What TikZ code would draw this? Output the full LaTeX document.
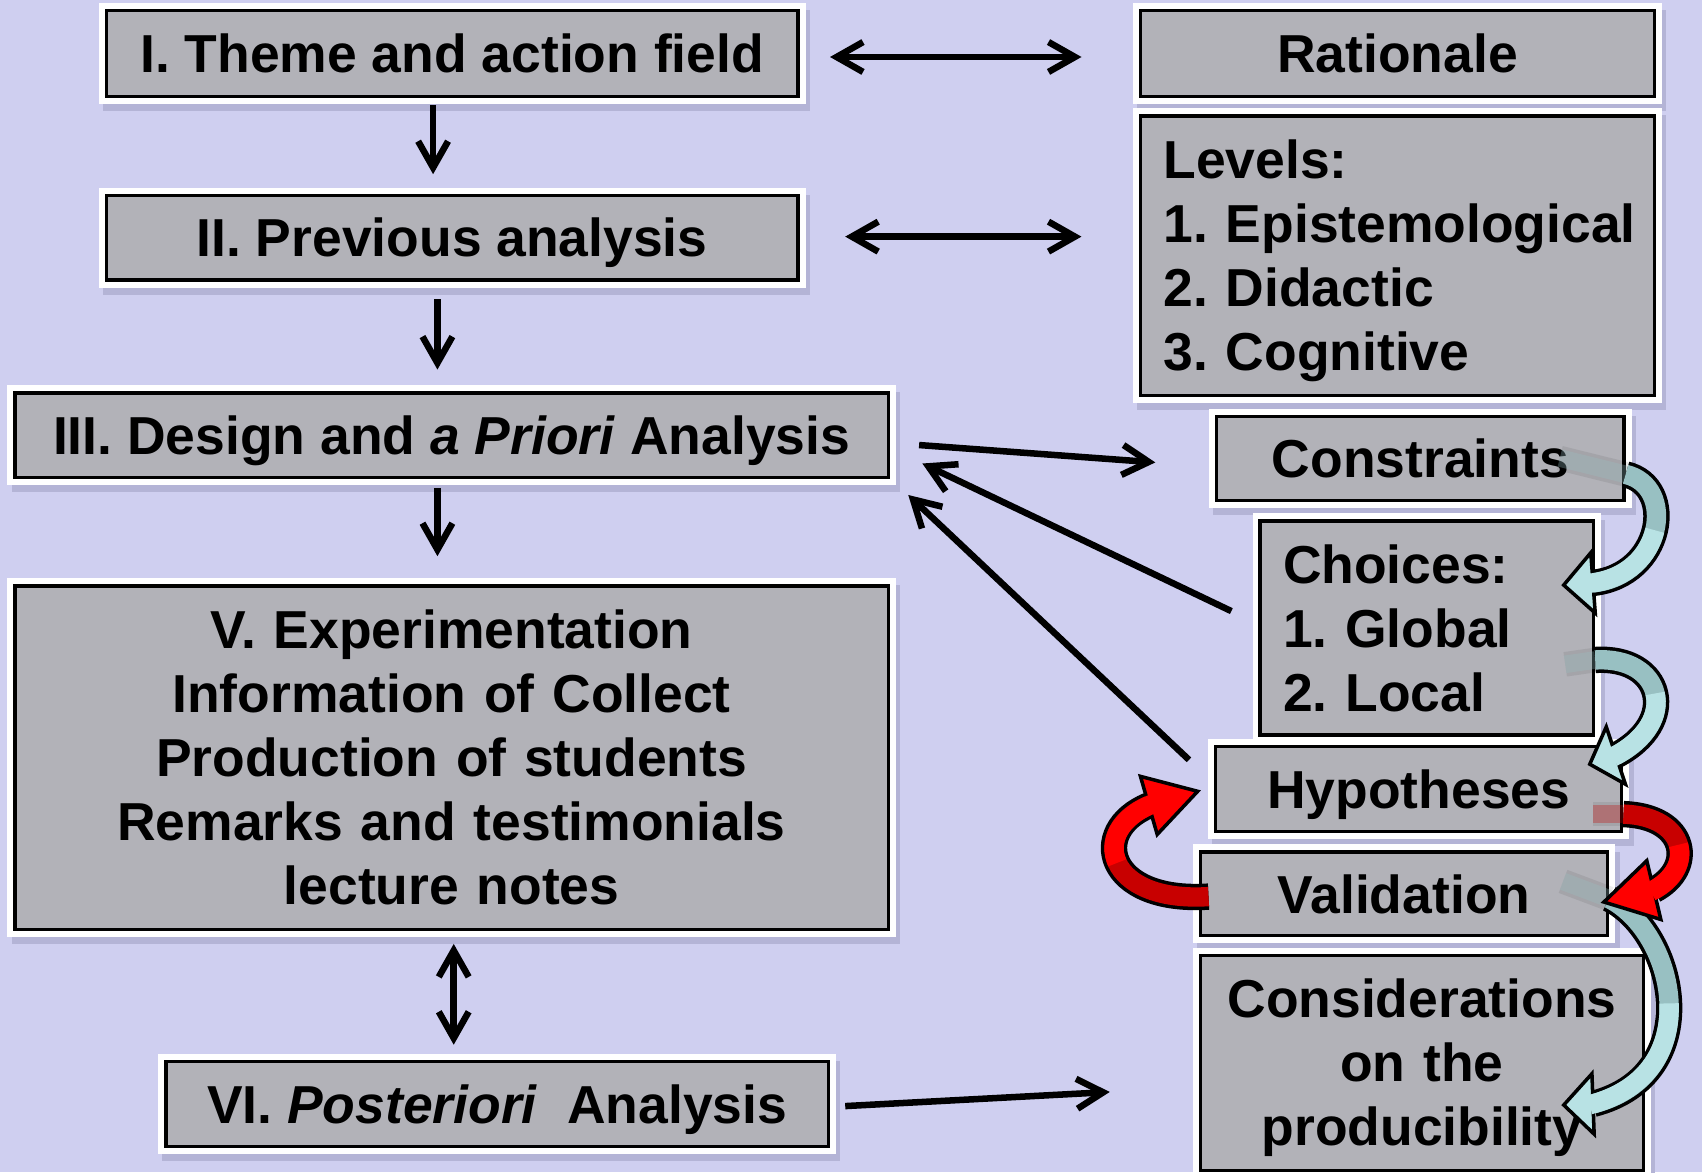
\documentclass[tikz,border=0pt]{standalone}
\usepackage{fontspec}
\setmainfont{Liberation Sans}
\usetikzlibrary{arrows.meta,calc,shadows}

\definecolor{lavender}{RGB}{207,207,240}
\definecolor{shadowlav}{RGB}{180,180,214}
\definecolor{boxgray}{RGB}{178,178,184}
\definecolor{bluefront}{RGB}{184,226,228}
\definecolor{blueback}{RGB}{152,192,194}
\definecolor{redfront}{RGB}{255,0,0}
\definecolor{redback}{RGB}{200,0,0}

% one pixel of the drawing
\newcommand{\pu}{0.30886pt}
\newcommand{\boxfont}{\fontsize{15.2}{18.2}\selectfont\bfseries\frenchspacing\hyphenpenalty=10000}

% curved block arrow: back colour, front colour, start, control 1, control 2, head base, tip
\newcommand{\bandarrow}[7]{%
  \draw[band edge] #3 .. controls #4 and #5 .. #6;
  \filldraw[band head, fill=#2] ($#6!8.6pt!90:#7$) -- #7 -- ($#6!8.6pt!-90:#7$) -- cycle;
  \draw[band, draw=#1] #3 .. controls #4 and #5 .. #6;
  \draw[band, draw=#2, shorten >=-1pt] ($0.125*#3+0.375*#4+0.375*#5+0.125*#6$)
    .. controls ($0.25*#4+0.5*#5+0.25*#6$) and ($0.5*#5+0.5*#6$) .. #6;
}

\begin{document}
\begin{tikzpicture}[x=0.010855cm, y=-0.010855cm]
        % Common styles
        \tikzstyle{box}=[draw=black, line width=3*\pu, fill=boxgray, inner sep=0pt, font=\boxfont,
            text height=10.9pt, text depth=0pt,
            general shadow={draw=shadowlav, fill=shadowlav, line width=14*\pu, shadow xshift=1.2pt, shadow yshift=-2pt},
            preaction={draw=white, line width=14*\pu}]
        \tikzstyle{arr}=[-{Straight Barb[length=7.5pt, width=8.5pt]}, line width=6*\pu]
        \tikzstyle{arrs}=[{Straight Barb[length=7.5pt, width=8.5pt]}-{Straight Barb[length=7.5pt, width=8.5pt]}, line width=6*\pu]
        \tikzstyle{band edge}=[draw=black, line width=7.5pt]
        \tikzstyle{band}=[line width=5.5pt]
        \tikzstyle{band head}=[draw=black, line width=1pt, line join=miter]
        \tikzstyle{ghost edge}=[draw=black, line width=7pt, opacity=.08]
        \tikzstyle{ghost}=[line width=5pt, opacity=.3]

        \fill[lavender] (0,0) rectangle (1568,1080);
        \useasboundingbox (0,0) rectangle (1568,1080);

        % --- Left column: the steps ---
        \node[box, minimum width=637*\pu, minimum height=79*\pu] (theme) at (416.5,49.5) {I. Theme and action field};
        \node[box, minimum width=637*\pu, minimum height=78*\pu] (prev) at (416.5,219) {II. Previous analysis};
        \node[box, minimum width=804*\pu, minimum height=78*\pu] (design) at (416,401) {III. Design and \textit{a Priori} Analysis};
        \node[box, minimum width=804*\pu, minimum height=316*\pu, text width=248pt, align=center, text depth=72.8pt] (expe) at (416,698)
            {V. Experimentation\\Information of Collect\\Production of students\\Remarks and testimonials\\lecture notes};
        \node[box, minimum width=610*\pu, minimum height=78*\pu] (post) at (458,1017) {VI. \textit{Posteriori}\ \ Analysis};

        % --- Right column: what goes with them ---
        \node[box, minimum width=473*\pu, minimum height=79*\pu] (rat) at (1287.5,49.5) {Rationale};
        \node[box, minimum width=473*\pu, minimum height=257*\pu, inner xsep=6.5pt, text width=133.1pt, align=left, text depth=54.6pt] (levels) at (1287.5,235.5)
            {Levels:\\1.~Epistemological\\2.~Didactic\\3.~Cognitive};
        \node[box, minimum width=375*\pu, minimum height=77*\pu] (cons) at (1308.5,422.5) {Constraints};
        \node[box, minimum width=307*\pu, minimum height=197*\pu, inner xsep=6.5pt, text width=81.8pt, align=left, text depth=36.4pt] (choices) at (1314.5,578.5)
            {Choices:\\1.~Global\\2.~Local};
        \node[box, minimum width=374*\pu, minimum height=78*\pu] (hyp) at (1307,727) {Hypotheses};
        \node[box, minimum width=375*\pu, minimum height=77*\pu] (valid) at (1293.5,823.5) {Validation};
        \node[box, minimum width=408*\pu, minimum height=198*\pu, text width=126pt, align=center, text depth=36.4pt] (consid) at (1310,979)
            {Considerations\\on the\\producibility};

        % --- Straight connectors ---
        \draw[arr] ($(theme.south)+(-17.5,6)$) -- ($(prev.north)+(-17.5,-18)$);
        \draw[arr] ($(prev.south)+(-13.5,16)$) -- ($(design.north)+(-13,-20)$);
        \draw[arr] ($(design.south)+(-13,8)$) -- ($(expe.north)+(-13,-26)$);
        \draw[arrs] ($(expe.south)+(2,12)$) -- ($(post.north)+(-40,-14)$);
        \draw[arrs] ($(theme.east)+(28,3)$) -- ($(rat.west)+(-53,3)$);
        \draw[arrs] ($(prev.east)+(42,-1)$) -- ($(levels.west)+(-53,-17.5)$);
        \draw[arr] ($(design.east)+(27,9)$) -- ($(cons.west)+(-55,3.5)$);
        \draw[arr] ($(choices.west)+(-25,-15.5)$) -- ($(design.east)+(30,26)$);
        \draw[arr] ($(hyp.west)+(-23,-27)$) -- ($(design.east)+(17,55)$);
        \draw[arr] ($(post.east)+(14,2)$) -- ($(consid.west)+(-82,27)$);

        % --- Curved block arrows ---
        \coordinate (a0) at ($(cons.east)+(0,14.5)$);
        \coordinate (a1) at ($(choices.east)+(-2,-41.5)$);
        \coordinate (a2) at ($(choices.east)+(-29,-39.5)$);
        \coordinate (b0) at ($(choices.east)+(0,29.5)$);
        \coordinate (b1) at ($(hyp.east)+(-7,-31)$);
        \coordinate (b2) at ($(hyp.east)+(-31,-23)$);
        \coordinate (c0) at ($(hyp.east)+(0,23)$);
        \coordinate (c1) at ($(valid.east)+(41,-3.5)$);
        \coordinate (c2) at ($(valid.east)+(-5,7.5)$);
        \coordinate (d0) at ($(valid.west)+(9,2.5)$);
        \coordinate (d1) at ($(hyp.west)+(-60,15)$);
        \coordinate (d2) at ($(hyp.west)+(-15,2)$);
        \coordinate (e0) at ($(valid.east)+(0,4.5)$);
        \coordinate (e1) at ($(consid.east)+(-48,38)$);
        \coordinate (e2) at ($(consid.east)+(-75,39)$);

        % faint tails seen through the boxes
        \draw[ghost edge] (1437,422) -- (a0);
        \draw[ghost, draw=blueback] (1437,422) -- (a0);
        \draw[ghost edge] (1442,612) -- (b0);
        \draw[ghost, draw=blueback] (1442,612) -- (b0);
        \draw[ghost edge] (1468,750) -- (c0);
        \draw[ghost, draw=redback] (1468,750) -- (c0);
        \draw[ghost edge] (1440,812) -- (e0);
        \draw[ghost, draw=blueback] (1440,812) -- (e0);

        \bandarrow{blueback}{bluefront}{(a0)}{(1545,448)}{(1532,530)}{(a1)}{(a2)}
        \bandarrow{blueback}{bluefront}{(b0)}{(1532,604)}{(1548,665)}{(b1)}{(b2)}
        \bandarrow{blueback}{bluefront}{(e0)}{(1545,860)}{(1572,990)}{(e1)}{(e2)}
        \bandarrow{redback}{redfront}{(c0)}{(1555,752)}{(1562,800)}{(c1)}{(c2)}
        \bandarrow{redback}{redfront}{(d0)}{(1018,832)}{(1003,765)}{(d1)}{(d2)}

    \end{tikzpicture}
\end{document}
